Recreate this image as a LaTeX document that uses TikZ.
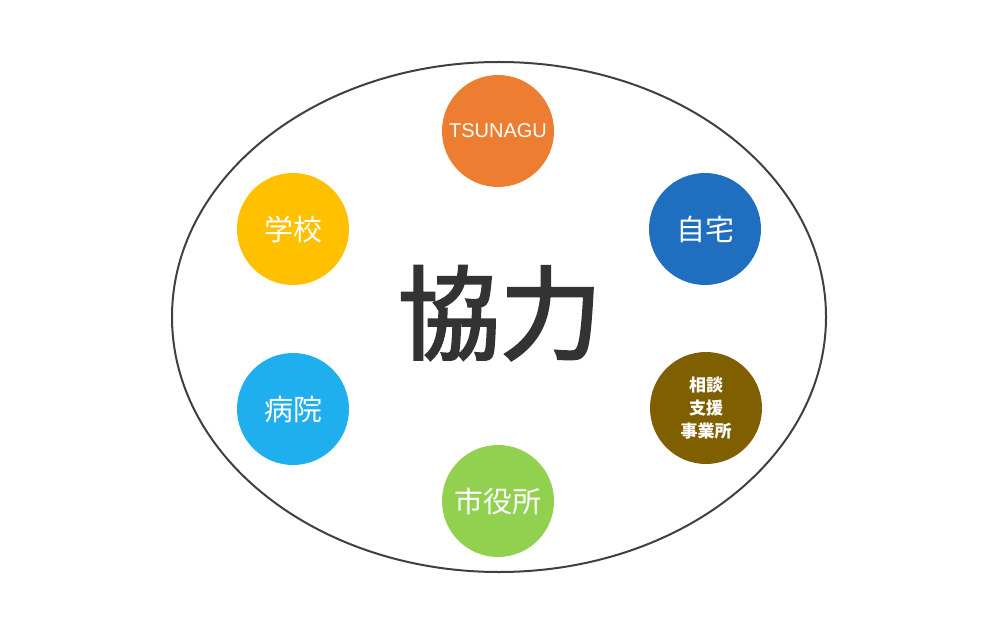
\documentclass[tikz,border=0pt]{standalone}
\usepackage{fontspec}
\usetikzlibrary{shapes.geometric}
\setmainfont{Liberation Sans}
\newfontfamily\cjk{Noto Sans CJK JP}
\newfontfamily\cjkmed[FakeBold=2.5]{Noto Sans CJK JP}
\definecolor{cOrange}{HTML}{ED7D31}
\definecolor{cBlue}{HTML}{1F6EC0}
\definecolor{cBrown}{HTML}{7F5F00}
\definecolor{cGreen}{HTML}{92D050}
\definecolor{cCyan}{HTML}{20AFEE}
\definecolor{cYellow}{HTML}{FFC000}
\definecolor{cText}{HTML}{333333}
\definecolor{cLine}{HTML}{404040}
\tikzset{
  member/.style={circle, minimum size=112pt, inner sep=0pt, text=white, align=center, font=\cjk\fontsize{29}{32}\selectfont},
}
\begin{document}
\begin{tikzpicture}[x=1pt,y=-1pt]
\useasboundingbox (0,0) rectangle (1000,636);
\node[ellipse, draw=cLine, line width=2pt, minimum width=654pt, minimum height=510pt, inner sep=0pt] (outer) at (499,317) {};
\node[text=cText, font=\cjkmed\fontsize{102}{110}\selectfont] (main) at (500,313) {協力};
\node[member, fill=cOrange, font=\fontsize{20}{22}\selectfont] (tsunagu) at (498,131) {TSUNAGU};
\node[member, fill=cBlue] (home) at (705,229) {自宅};
\node[member, fill=cBrown, font=\cjk\bfseries\fontsize{17}{23}\selectfont] (sodan) at (706,408) {相談\\支援\\事業所};
\node[member, fill=cGreen] (city) at (498,501) {市役所};
\node[member, fill=cCyan] (hosp) at (293,409) {病院};
\node[member, fill=cYellow] (school) at (293,229) {学校};
\end{tikzpicture}
\end{document}
